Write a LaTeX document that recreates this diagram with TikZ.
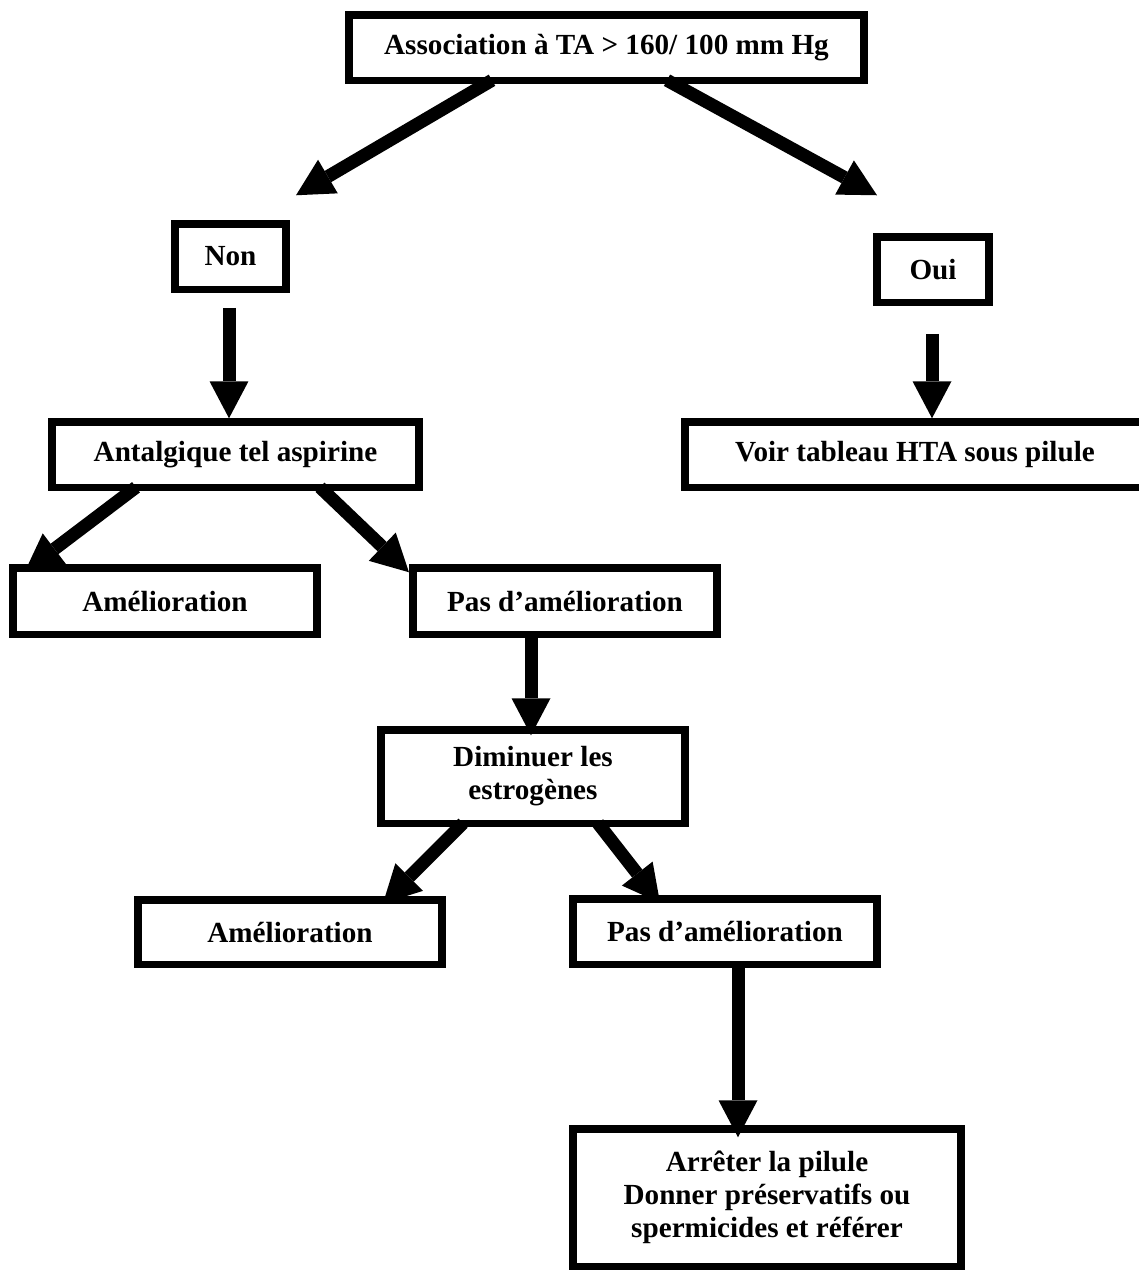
\documentclass[tikz,border=0pt]{standalone}
\usepackage{fontspec}
\setmainfont{Liberation Serif}
\usetikzlibrary{calc,arrows.meta}

\begin{document}
\begin{tikzpicture}[x=0.02cm, y=-0.02cm,
  every node/.style={font=\bfseries\fontsize{16.6}{18.8}\selectfont},
  box/.style={draw, line width=0.15cm, inner sep=0pt, outer sep=0pt, align=center},
  bigarrow/.style={line width=0.26cm, -{Triangle[length=0.74cm,width=0.78cm,line width=0pt]}}]
\clip (0,0) rectangle (1139,1272);
\node[box,minimum width=10.31cm,minimum height=1.31cm] (assoc) at (606.5,47.5) {Association à TA > 160/ 100 mm Hg};
\node[box,minimum width=2.23cm,minimum height=1.31cm] (non) at (230.5,256.5) {Non};
\node[box,minimum width=2.25cm,minimum height=1.31cm] (oui) at (933,269.5) {Oui};
\node[box,minimum width=7.35cm,minimum height=1.31cm] (antal) at (235.5,454.5) {Antalgique tel aspirine};
\node[box,minimum width=9.21cm,minimum height=1.31cm] (voir) at (915,454.5) {Voir tableau HTA sous pilule};
\node[box,minimum width=6.09cm,minimum height=1.33cm] (amel1) at (165,601) {Amélioration};
\node[box,minimum width=6.09cm,minimum height=1.33cm] (pas1) at (565,601) {Pas d’amélioration};
\node[box,minimum width=6.09cm,minimum height=1.87cm] (dimin) at (533,776.5) {Diminuer les\\estrogènes};
\node[box,minimum width=6.09cm,minimum height=1.29cm] (amel2) at (290,932) {Amélioration};
\node[box,minimum width=6.09cm,minimum height=1.31cm] (pas2) at (725,931.5) {Pas d’amélioration};
\node[box,minimum width=7.77cm,minimum height=2.75cm] (arret) at (767,1197.5) {Arrêter la pilule\\Donner préservatifs ou\\spermicides et référer};
% fleches
\draw[bigarrow] ($(assoc.south)+(-114.5,0)$) -- ($(non.north)+(65.5,-28.5)$);
\draw[bigarrow] ($(assoc.south)+(60.5,0)$) -- ($(oui.north)+(-56,-41.5)$);
\draw[bigarrow] ($(non.south)+(-1.5,18.5)$) -- ($(antal.north)+(-6.5,-3.5)$);
\draw[bigarrow] ($(oui.south)+(-1,31.5)$) -- ($(voir.north)+(17,-3.5)$);
\draw[bigarrow] ($(antal.south)+(-99.5,0)$) -- ($(amel1.north)+(-140,3.5)$);
\draw[bigarrow] ($(antal.south)+(84.5,0)$) -- ($(pas1.north)+(-156,4.5)$);
\draw[bigarrow] ($(pas1.south)+(-34,0)$) -- ($(dimin.north)+(-2,5.5)$);
\draw[bigarrow] ($(dimin.south)+(-70,0)$) -- ($(amel2.north)+(93,3.5)$);
\draw[bigarrow] ($(dimin.south)+(65,0)$) -- ($(pas2.north)+(-65,4)$);
\draw[bigarrow] ($(pas2.south)+(13,0)$) -- ($(arret.north)+(-29,8.5)$);
\end{tikzpicture}
\end{document}
